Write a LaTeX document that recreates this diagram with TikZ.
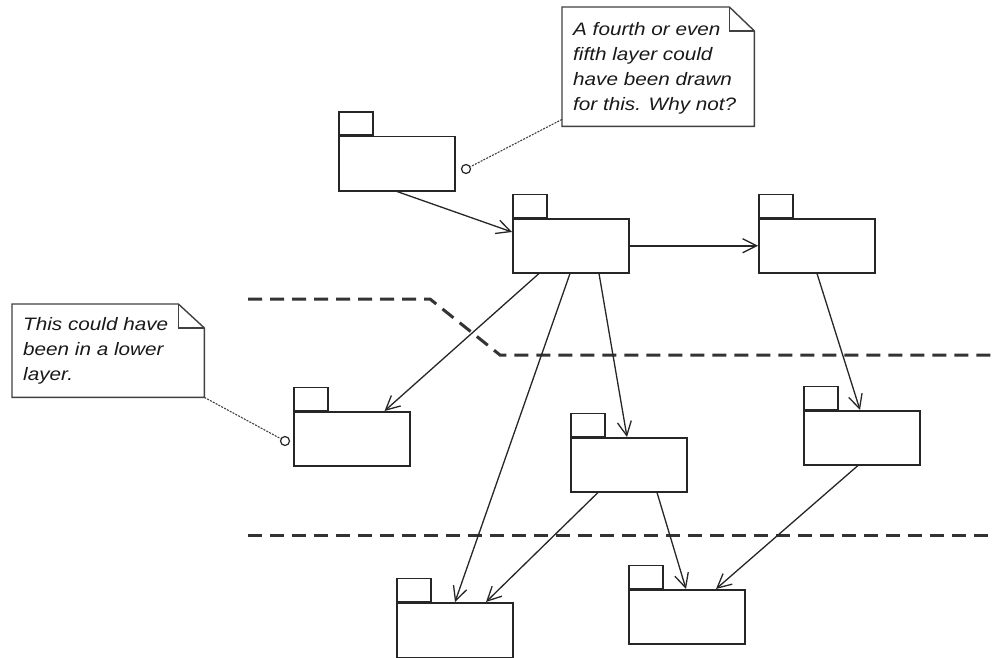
\documentclass[tikz,border=0pt]{standalone}
\usepackage{fontspec}
\newfontfamily\notefont[FakeStretch=1.15]{Liberation Sans}
\usetikzlibrary{arrows.meta,calc}
\begin{document}
\begin{tikzpicture}[x=1pt,y=-1pt,
  pkgbody/.style={draw=black!85, line width=1.5pt, inner sep=0pt, anchor=north west,
    minimum width=116pt, minimum height=54pt},
  pkgtab/.style={draw=black!85, line width=1.5pt, inner sep=0pt, anchor=south west,
    minimum width=34pt, minimum height=23pt},
  arr/.style={draw=black!85, line width=1.3pt,
    -{Straight Barb[length=14pt,width=14pt,line width=1.3pt]}},
  layer/.style={draw=black!80, line width=3pt, dash pattern=on 14pt off 8pt},
  notebox/.style={draw=none, inner sep=0pt, anchor=north west},
  noteline/.style={draw=black!75, line width=1.4pt},
  notetext/.style={anchor=north west, inner sep=0pt, align=left, text=black!90,
    font=\notefont\itshape\fontsize{18pt}{25pt}\selectfont},
  dotline/.style={draw=black!75, line width=1.1pt, dash pattern=on 2pt off 1.2pt},
  circ/.style={circle, draw=black!85, line width=1.2pt, fill=white, inner sep=0pt, minimum size=9pt}
]
\useasboundingbox (0,0) rectangle (996,658);

% layer separators
\draw[layer] (248,299) -- (430,299) -- (500,355) -- (996,355);
\draw[layer] (248,535) -- (996,535);

% packages
\node[pkgbody] (p1) at (338,136) {};
\node[pkgtab] (p1t) at (p1.north west) {};
\node[pkgbody] (p2) at (512,218) {};
\node[pkgtab] (p2t) at (p2.north west) {};
\node[pkgbody] (p3) at (758,218) {};
\node[pkgtab] (p3t) at (p3.north west) {};
\node[pkgbody] (p4) at (293,411) {};
\node[pkgtab] (p4t) at (p4.north west) {};
\node[pkgbody] (p5) at (570,437) {};
\node[pkgtab] (p5t) at (p5.north west) {};
\node[pkgbody] (p6) at (803,410) {};
\node[pkgtab] (p6t) at (p6.north west) {};
\node[pkgbody, minimum height=55pt] (p7) at (396,602) {};
\node[pkgtab] (p7t) at (p7.north west) {};
\node[pkgbody] (p8) at (628,589) {};
\node[pkgtab] (p8t) at (p8.north west) {};

% dependencies
\draw[arr] ([xshift=59pt]p1.south west) -- ([yshift=-14pt]p2.north west);
\draw[arr, line width=1.8pt] (p2.east) -- (p3.west);
\draw[arr] ([xshift=27pt]p2.south west) -- ([xshift=-26pt]p4.north east);
\draw[arr] ([xshift=58pt]p2.south west) -- ([xshift=59pt]p7.north west);
\draw[arr] ([xshift=87pt]p2.south west) -- ([xshift=57pt]p5.north west);
\draw[arr] ([xshift=59pt]p3.south west) -- ([xshift=57pt]p6.north west);
\draw[arr] ([xshift=28pt]p5.south west) -- ([xshift=90pt]p7.north west);
\draw[arr] ([xshift=87pt]p5.south west) -- ([xshift=58pt]p8.north west);
\draw[arr] ([xshift=55pt]p6.south west) -- ([xshift=88pt]p8.north west);

% note 1
\node[notebox, minimum width=192pt, minimum height=119pt] (n1) at (562,7) {};
\draw[noteline] (n1.north west) -- ([xshift=-25pt]n1.north east) -- ([yshift=-24pt]n1.north east)
  -- (n1.south east) -- (n1.south west) -- cycle;
\draw[noteline] ([xshift=-25pt]n1.north east) |- ([yshift=-24pt]n1.north east);
\node[notetext] (n1txt) at (573,22) {A fourth or even\\fifth layer could\\have been drawn\\for this. Why not?};
\node[circ] (c1) at (466,169) {};
\draw[dotline] ([yshift=7pt]n1.south west) -- (c1);

% note 2
\node[notebox, minimum width=192pt, minimum height=93pt] (n2) at (12,304) {};
\draw[noteline] (n2.north west) -- ([xshift=-26pt]n2.north east) -- ([yshift=-24pt]n2.north east)
  -- (n2.south east) -- (n2.south west) -- cycle;
\draw[noteline] ([xshift=-26pt]n2.north east) |- ([yshift=-24pt]n2.north east);
\node[notetext] (n2txt) at (23,317) {This could have\\been in a lower\\layer.};
\node[circ] (c2) at (285,441) {};
\draw[dotline] (n2.south east) -- (c2);
\end{tikzpicture}
\end{document}
